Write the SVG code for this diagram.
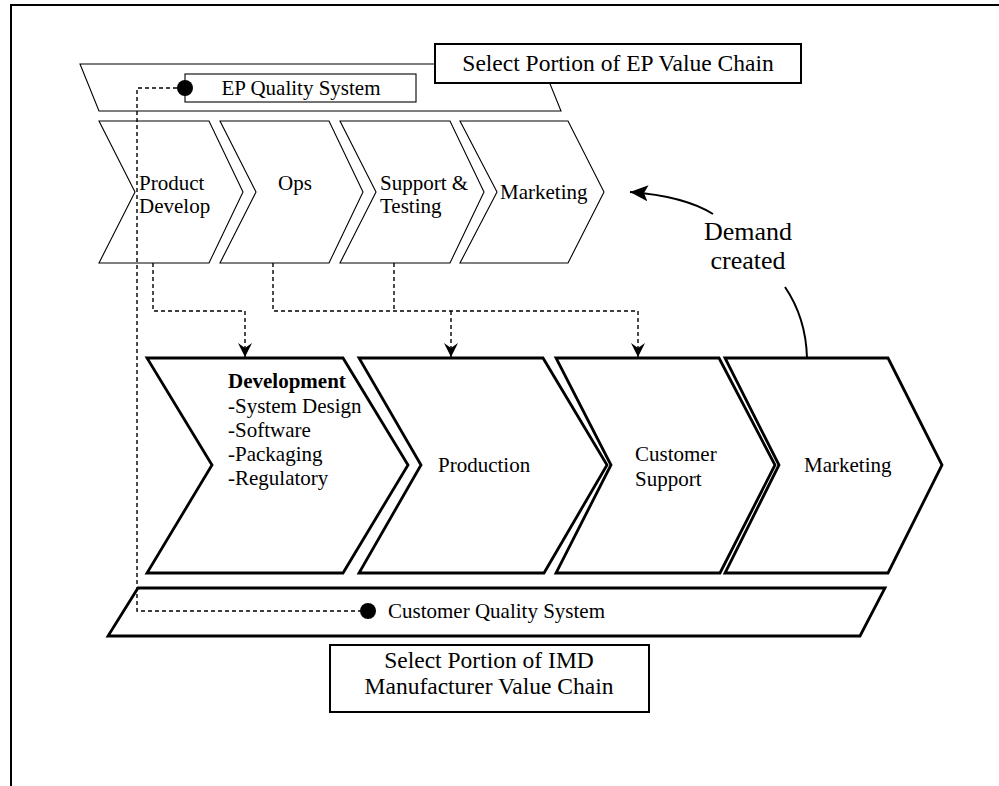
<svg xmlns="http://www.w3.org/2000/svg" width="999" height="786" viewBox="0 0 999 786">
  <style>
    text { font-family: "Liberation Serif", "Times New Roman", serif; fill: #000; }
    .t21 { font-size: 21px; }
    .t23 { font-size: 23.5px; }
    .t26 { font-size: 26px; }
    .thin { fill: #fff; stroke: #000; stroke-width: 1.1; stroke-linejoin: miter; }
    .thick { fill: #fff; stroke: #000; stroke-width: 2.8; stroke-linejoin: miter; }
    .box { fill: #fff; stroke: #000; stroke-width: 2; }
    .dash { fill: none; stroke: #000; stroke-width: 1.4; stroke-dasharray: 4 3; }
    .curve { fill: none; stroke: #000; stroke-width: 2; }
  </style>
  <defs>
    <marker id="barb" markerWidth="16" markerHeight="16" refX="14" refY="7" orient="auto" markerUnits="userSpaceOnUse">
      <path d="M0,0 L14,7 L0,14 L5,7 Z" fill="#000"/>
    </marker>
    <marker id="solid" markerWidth="20" markerHeight="16" refX="18" refY="8" orient="auto" markerUnits="userSpaceOnUse">
      <path d="M0,0 L18,8 L0,16 L4,8 Z" fill="#000"/>
    </marker>
  </defs>

  <rect width="999" height="786" fill="#fff"/>
  <!-- page frame -->
  <path d="M11,786 L11,5 L999,5" fill="none" stroke="#000" stroke-width="2"/>

  <!-- EP value chain band -->
  <g id="ep-band">
    <polygon class="thin" points="80,64 542,64 561,111 99,111"/>
  </g>
  <g id="ep-title">
    <rect class="box" x="435" y="44" width="366" height="39"/>
    <text class="t23" x="618" y="71" text-anchor="middle">Select Portion of EP Value Chain</text>
  </g>
  <g id="ep-quality">
    <rect class="thin" x="185" y="74" width="231" height="28" stroke-width="1.5"/>
    <text class="t21" x="301" y="95" text-anchor="middle">EP Quality System</text>
  </g>

  <!-- EP chain stages -->
  <g id="ep-product-develop">
    <polygon class="thin" points="99,121 209,121 243,192 209,263 99,263 135,192"/>
    <text class="t21" x="139" y="190">Product</text>
    <text class="t21" x="139" y="213">Develop</text>
  </g>
  <g id="ep-ops">
    <polygon class="thin" points="220,121 329,121 363,192 329,263 220,263 256,192"/>
    <text class="t21" x="295" y="190" text-anchor="middle">Ops</text>
  </g>
  <g id="ep-support-testing">
    <polygon class="thin" points="340,121 450,121 484,192 450,263 340,263 376,192"/>
    <text class="t21" x="380" y="190">Support &amp;</text>
    <text class="t21" x="380" y="213">Testing</text>
  </g>
  <g id="ep-marketing">
    <polygon class="thin" points="460,121 568,121 604,192 568,263 460,263 497,192"/>
    <text class="t21" x="500" y="199">Marketing</text>
  </g>

  <!-- IMD manufacturer chain stages -->
  <g id="imd-development">
    <polygon class="thick" points="147,358 343,358 408,465 343,573 147,573 212,465"/>
    <text class="t21" x="228" y="388" font-weight="bold">Development</text>
    <text class="t21" x="228" y="413">-System Design</text>
    <text class="t21" x="228" y="437">-Software</text>
    <text class="t21" x="228" y="461">-Packaging</text>
    <text class="t21" x="228" y="485">-Regulatory</text>
  </g>
  <g id="imd-production">
    <polygon class="thick" points="359,358 543,358 607,465 544,573 359,573 421,465"/>
    <text class="t21" x="438" y="472">Production</text>
  </g>
  <g id="imd-customer-support">
    <polygon class="thick" points="556,358 719,358 775,465 720,573 556,573 611,465"/>
    <text class="t21" x="635" y="461">Customer</text>
    <text class="t21" x="635" y="486">Support</text>
  </g>
  <g id="imd-marketing">
    <polygon class="thick" points="725,358 888,358 942,465 888,573 725,573 779,465"/>
    <text class="t21" x="804" y="472">Marketing</text>
  </g>

  <!-- customer quality band -->
  <g id="customer-band">
    <polygon class="thick" points="138,588 885,588 860,636 108,636" stroke-width="2.5"/>
  </g>
  <g id="imd-title">
    <rect class="box" x="330" y="645" width="319" height="67"/>
    <text class="t23" x="489" y="668" text-anchor="middle">Select Portion of IMD</text>
    <text class="t23" x="489" y="694" text-anchor="middle">Manufacturer Value Chain</text>
  </g>

  <!-- connectors -->
  <g id="connectors">
    <!-- quality system link -->
    <path class="dash" d="M177,88 H137 V611 H360"/>
    <circle cx="185" cy="88" r="8" fill="#000"/>
    <circle cx="368" cy="611" r="8" fill="#000"/>
    <text class="t21" x="388" y="618">Customer Quality System</text>

    <!-- stage mapping -->
    <path class="dash" d="M153,263 V311 H245 V357" marker-end="url(#barb)"/>
    <path class="dash" d="M273,263 V311 H638"/>
    <path class="dash" d="M394,263 V311"/>
    <path class="dash" d="M451,311 V357" marker-end="url(#barb)"/>
    <path class="dash" d="M638,311 V357" marker-end="url(#barb)"/>

    <!-- demand feedback -->
    <path class="curve" d="M785,287 Q806,318 807,358"/>
    <path class="curve" d="M713,214 Q684,196 630,192" marker-end="url(#solid)"/>
    <text class="t26" x="748" y="240" text-anchor="middle">Demand</text>
    <text class="t26" x="748" y="269" text-anchor="middle">created</text>
  </g>
</svg>
